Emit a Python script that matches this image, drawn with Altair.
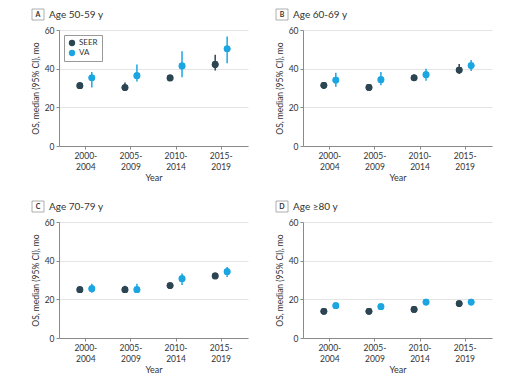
import altair as alt
import pandas as pd

periods = ["2000-2004", "2005-2009", "2010-2014", "2015-2019"]
groups = ["SEER", "VA"]
colors = ["#2c4552", "#1ba6e2"]
letters = ["A", "B", "C", "D"]
titles = ["Age 50-59 y", "Age 60-69 y", "Age 70-79 y", "Age \u226580 y"]

# Panel A (Age 50-59 y)
a_seer_med = [31.2, 30.2, 35.2, 42.2]
a_seer_lo = [29.5, 28.5, 34.0, 39.1]
a_seer_hi = [32.8, 32.8, 36.5, 47.2]
a_va_med = [35.3, 36.4, 41.4, 50.3]
a_va_lo = [30.2, 33.4, 35.5, 42.8]
a_va_hi = [38.3, 42.2, 49.0, 56.6]

# Panel B (Age 60-69 y)
b_seer_med = [31.4, 30.3, 35.3, 39.3]
b_seer_lo = [29.5, 29.0, 33.5, 37.2]
b_seer_hi = [33.0, 31.5, 37.0, 42.4]
b_va_med = [34.1, 34.3, 36.9, 41.6]
b_va_lo = [30.7, 31.4, 33.8, 38.8]
b_va_hi = [37.9, 38.3, 40.0, 44.5]

# Panel C (Age 70-79 y)
c_seer_med = [25.0, 25.0, 27.1, 32.1]
c_seer_lo = [23.5, 23.5, 26.0, 30.5]
c_seer_hi = [26.5, 27.0, 28.5, 33.5]
c_va_med = [25.5, 25.0, 30.7, 34.3]
c_va_lo = [23.4, 23.3, 27.4, 31.6]
c_va_hi = [28.1, 28.1, 33.3, 36.7]

# Panel D (Age >=80 y)
d_seer_med = [13.8, 13.8, 14.8, 17.8]
d_seer_lo = [13.0, 13.0, 14.0, 17.0]
d_seer_hi = [14.7, 14.7, 15.7, 18.7]
d_va_med = [16.7, 16.2, 18.6, 18.6]
d_va_lo = [15.5, 15.0, 17.5, 17.5]
d_va_hi = [18.0, 17.5, 19.8, 19.8]

panel_data = {
    "A": [(a_seer_med, a_seer_lo, a_seer_hi), (a_va_med, a_va_lo, a_va_hi)],
    "B": [(b_seer_med, b_seer_lo, b_seer_hi), (b_va_med, b_va_lo, b_va_hi)],
    "C": [(c_seer_med, c_seer_lo, c_seer_hi), (c_va_med, c_va_lo, c_va_hi)],
    "D": [(d_seer_med, d_seer_lo, d_seer_hi), (d_va_med, d_va_lo, d_va_hi)],
}

rows = []
for p, series in panel_data.items():
    for g, (med, lo, hi) in zip(groups, series):
        for per, m, l, h in zip(periods, med, lo, hi):
            rows.append({"panel": p, "period": per, "group": g, "median": m, "lo": l, "hi": h})
df = pd.DataFrame(rows)

FONT = "Lato"
AX = "#8a8a8a"
TXT = "#333333"


def make_panel(i):
    letter = letters[i]
    d = df[df.panel == letter]
    base = alt.Chart(d)
    x = alt.X(
        "period:N",
        sort=periods,
        scale=alt.Scale(paddingInner=0.47, paddingOuter=0.33),
        axis=alt.Axis(
            title="Year",
            labelAngle=0,
            labelExpr="[slice(datum.label, 0, 5), slice(datum.label, 5)]",
            labelFontSize=8.5,
            labelColor=TXT,
            labelFont=FONT,
            labelPadding=2,
            labelLineHeight=11,
            titleFont=FONT,
            titleFontSize=9,
            titleFontWeight="normal",
            titleColor=TXT,
            titlePadding=3,
            tickSize=3,
            tickColor=AX,
            domainColor=AX,
            grid=False,
        ),
    )
    xo = alt.XOffset("group:N", sort=groups, scale=alt.Scale(paddingInner=0, paddingOuter=0))
    yscale = alt.Scale(domain=[0, 60])
    yaxis = alt.Axis(
        values=[0, 20, 40, 60],
        title="OS, median (95% CI), mo",
        labelFontSize=8.5,
        labelColor=TXT,
        labelFont=FONT,
        labelPadding=2,
        titleFont=FONT,
        titleFontSize=8.5,
        titleFontWeight="normal",
        titleColor=TXT,
        titlePadding=4,
        tickSize=3,
        tickColor=AX,
        domainColor=AX,
        grid=True,
        gridColor="#e4e4e4",
    )
    if i == 0:
        legend = alt.Legend(
            title=None,
            orient="top-left",
            offset=5,
            padding=4,
            strokeColor="#999999",
            fillColor="white",
            labelFont=FONT,
            labelFontSize=8,
            labelColor=TXT,
            symbolType="circle",
            symbolSize=40,
            symbolStrokeWidth=0,
            rowPadding=2,
            labelOffset=3,
        )
    else:
        legend = None
    color = alt.Color("group:N", scale=alt.Scale(domain=groups, range=colors), legend=legend)

    rules = base.mark_rule(strokeWidth=1.5).encode(
        x=x, xOffset=xo, y=alt.Y("lo:Q", scale=yscale, axis=yaxis), y2="hi:Q", color=color
    )
    pts = base.mark_circle(size=45, opacity=1).encode(
        x=x, xOffset=xo, y=alt.Y("median:Q", scale=yscale, axis=yaxis), color=color
    )
    tdf = pd.DataFrame({"letter": [letter], "title": [titles[i]]})
    tbase = alt.Chart(tdf)
    box = tbase.mark_rect(fill="white", stroke="#999999", strokeWidth=0.8).encode(
        x=alt.value(-27), x2=alt.value(-15), y=alt.value(-21), y2=alt.value(-10)
    )
    ltr = tbase.mark_text(font=FONT, fontSize=7, fontWeight="bold", color=TXT, align="center", baseline="middle").encode(
        x=alt.value(-21), y=alt.value(-15.5), text="letter:N"
    )
    ttl = tbase.mark_text(font=FONT, fontSize=10, color=TXT, align="left", baseline="middle").encode(
        x=alt.value(-10), y=alt.value(-15.5), text="title:N"
    )
    return alt.layer(pts, rules, pts, box, ltr, ttl).properties(width=189, height=116)


row1 = alt.hconcat(make_panel(0), make_panel(1), spacing=27)
row2 = alt.hconcat(make_panel(2), make_panel(3), spacing=27)
chart = (
    alt.vconcat(row1, row2, spacing=17)
    .resolve_scale(color="independent")
    .properties(padding={"left": 23, "top": 0, "right": 5, "bottom": 5}, background="white")
    .configure_view(stroke=None)
)

chart.save("out.html", embed_options={"renderer": "svg", "actions": False})
